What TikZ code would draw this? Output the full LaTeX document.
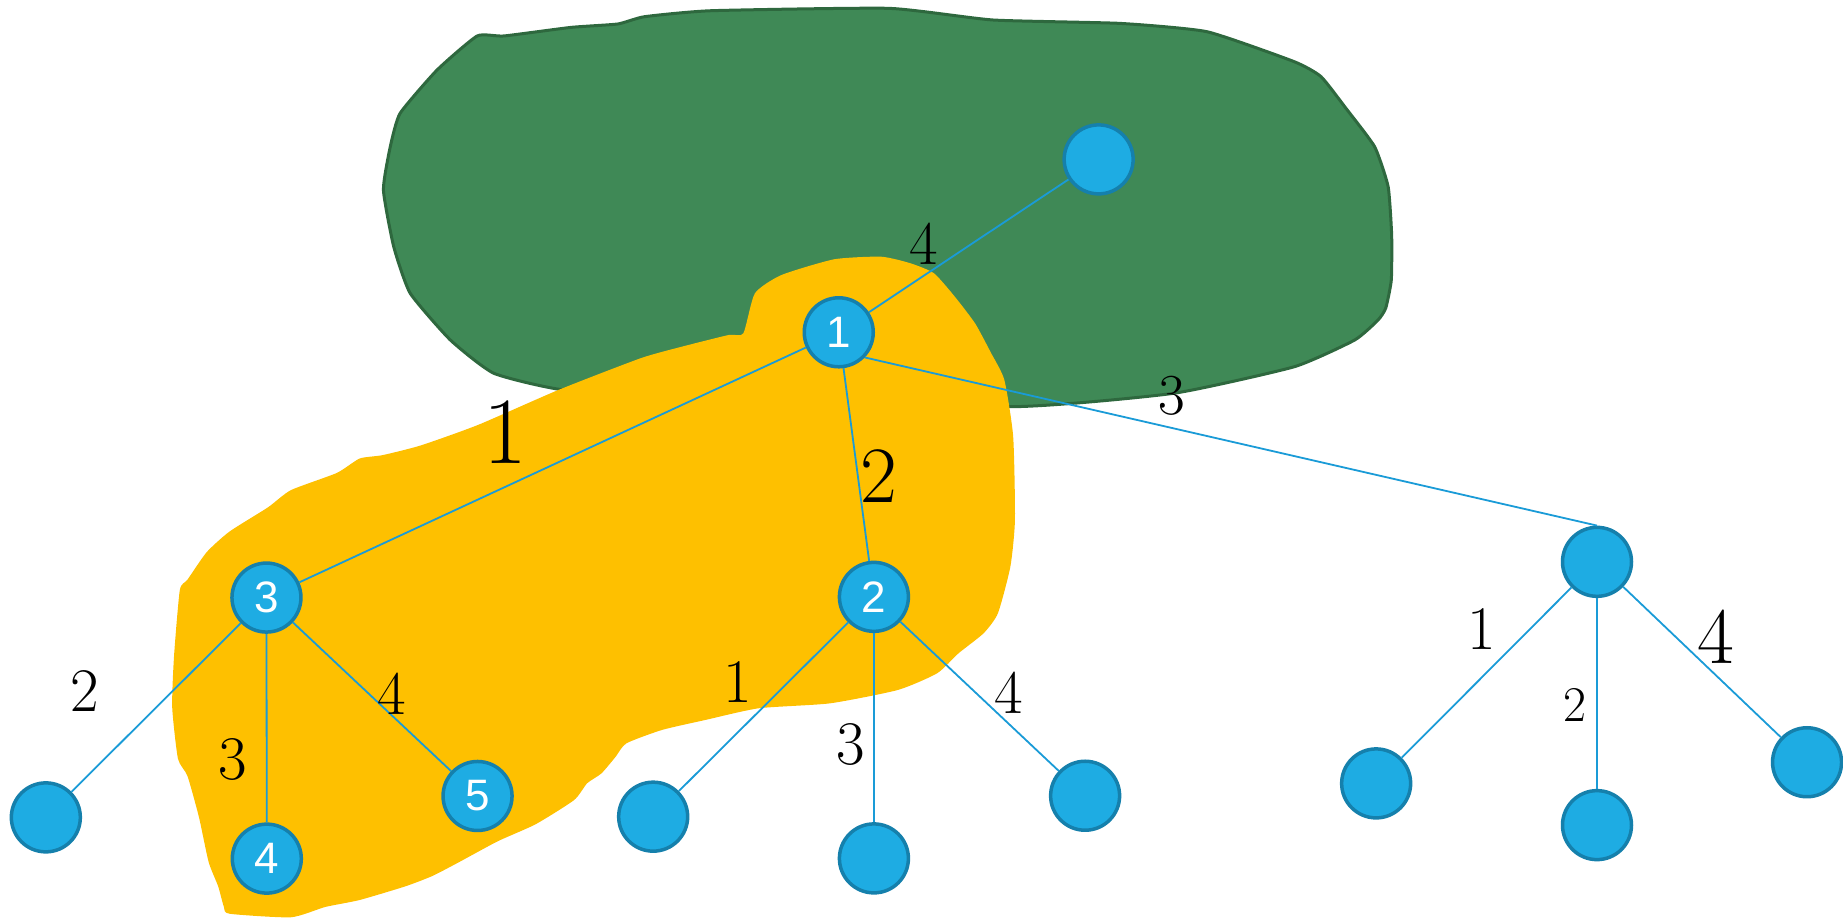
\documentclass[tikz,border=0pt]{standalone}
\usepackage{fontspec}
\newfontfamily\nodefont{Liberation Sans}
\definecolor{gfill}{RGB}{63,137,86}
\definecolor{gline}{RGB}{46,104,62}
\definecolor{yfill}{RGB}{254,192,0}
\definecolor{bfill}{RGB}{30,172,227}
\definecolor{bline}{RGB}{21,128,172}
\definecolor{eline}{RGB}{26,155,215}
\tikzset{
  vtx/.style={circle,fill=bfill,draw=bline,line width=3.5pt,minimum size=69pt,inner sep=0pt,text=white,font=\nodefont\fontsize{44}{48}\selectfont},
  edg/.style={draw=eline,line width=1.8pt},
  wlab/.style={inner sep=0pt,text=black,font=\fontsize{62}{66}\selectfont}
}
\begin{document}
\begin{tikzpicture}[x=1.1754pt,y=-1.1754pt]
\useasboundingbox (0,0) rectangle (1568,783);
% green region
\filldraw[fill=gfill,draw=gline,line width=3pt] plot[smooth cycle,tension=0.3] coordinates {
(406,30.6) (428.8,30.6) (485.8,23.3) (525.6,20.4) (548.4,14.2) (605.4,9.1) (756.3,7.1) (844.7,17) (953,19.9) (1027,27) (1101.2,52.5) (1123.9,65.2) (1145,92) (1169.5,124.8) (1181,158.8) (1184,200) (1183.7,238.2) (1179,262) (1172.4,272.3) (1152.5,289.3) (1101.2,312) (998.6,334.6) (861.8,346) (600,338) (480,331.8) (420.2,317.6) (383.2,289.3) (349,249.5) (335,210) (326.2,161.6) (332,125) (340.4,96.4) (371.8,59.6)};
% yellow region
\fill[yfill] plot[smooth cycle,tension=0.35] coordinates {
(709.7,220.6) (749.7,218.4) (774.6,224) (794.6,232.5) (812,252) (829.5,275) (843,300) (854.5,323.3) (862,371.5) (863.5,442.4) (859.6,482.1) (849,521.8) (836.8,538.8) (815.5,555.8) (797.3,572.8) (763.9,587) (706.1,598.4) (645.4,602.6) (599.8,612.6) (563.3,621) (532.9,632.4) (523.8,643.8) (511.7,658) (499.5,666.4) (488.4,680.7) (455.8,701.2) (423.3,715.8) (390.7,733.4) (368,745.2) (345.1,754) (306,765.7) (276.8,771.6) (247.5,780.4) (195.3,777.4) (190.5,771.6) (185.6,754) (177.5,733.4) (169.3,695.3) (159.5,660.2) (151.4,645.5) (146.5,601.6) (148.1,557.7) (153,502) (159.5,493.2) (175.8,469.8) (195.3,452.2) (227.9,431.7) (247.5,417) (286.5,402.4) (306,390.1) (325.6,387.2) (358.2,378.9) (407,361.4) (475,331.8) (545,304.8) (579.9,295) (619.9,285) (632.4,283.6) (642.3,249.5) (664.8,234)};
% vertices
\node[vtx] (t) at (934.7,135.6) {};
\node[vtx] (n1) at (713.6,282.7) {1};
\node[vtx] (n3) at (226.7,508.4) {3};
\node[vtx] (n2) at (743.5,507.8) {2};
\node[vtx] (r) at (1358.7,478) {};
\node[vtx] (a1) at (39,695.4) {};
\node[vtx] (n4) at (227,730.5) {4};
\node[vtx] (n5) at (406.3,677.2) {5};
\node[vtx] (b1) at (555.7,694.8) {};
\node[vtx] (b2) at (743.5,730.3) {};
\node[vtx] (b3) at (923.2,677) {};
\node[vtx] (c1) at (1170.8,666.5) {};
\node[vtx] (c2) at (1358.7,702) {};
\node[vtx] (c3) at (1537.4,648.5) {};
% edges
\draw[edg] (n1) -- (t);
\draw[edg] (n1) -- (n3);
\draw[edg] (n1) -- (n2);
\draw[edg] (n1.-44) -- (r.north);
\draw[edg] (n3) -- (a1);
\draw[edg] (n3) -- (n4);
\draw[edg] (n3) -- (n5);
\draw[edg] (n2) -- (b1);
\draw[edg] (n2) -- (b2);
\draw[edg] (n2) -- (b3);
\draw[edg] (r) -- (c1);
\draw[edg] (r) -- (c2);
\draw[edg] (r) -- (c3);
% weights
\node[wlab] (w1t) at (786,207) {4};
\node[wlab,font=\fontsize{95}{100}\selectfont] (w13) at (430,368) {1};
\node[wlab,font=\fontsize{80}{84}\selectfont] (w12) at (748,405) {2};
\node[wlab,font=\fontsize{58}{62}\selectfont] (w1r) at (997,337) {3};
\node[wlab] (w3a) at (72,588) {2};
\node[wlab] (w34) at (198,646) {3};
\node[wlab] (w35) at (333,590) {4};
\node[wlab] (w2a) at (628,580) {1};
\node[wlab] (w2b) at (724,633) {3};
\node[wlab] (w2c) at (858,589) {4};
\node[wlab] (wra) at (1261,535) {1};
\node[wlab,font=\fontsize{50}{54}\selectfont] (wrb) at (1340,600) {2};
\node[wlab,font=\fontsize{80}{84}\selectfont] (wrc) at (1460,542) {4};
\end{tikzpicture}
\end{document}
